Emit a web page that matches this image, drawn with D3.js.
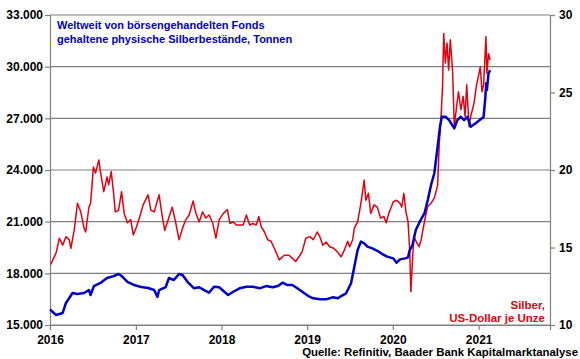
<!DOCTYPE html>
<html>
<head>
<meta charset="utf-8">
<script src="https://cdn.jsdelivr.net/npm/d3@7"></script>
<style>
  body { margin: 0; background: #fff; }
  svg { display: block; font-family: "Liberation Sans", Arial, sans-serif; }
  .axis text { font-size: 12px; font-weight: bold; fill: #000; }
</style>
</head>
<body>
<svg width="580" height="359"></svg>
<script>
// silver price, US-Dollar per ounce (right axis)
var silverDates = ["2016-01-04","2016-01-13","2016-01-27","2016-02-10","2016-02-24","2016-03-09","2016-03-23","2016-03-30","2016-04-13","2016-04-27",
  "2016-05-11","2016-05-25","2016-06-01","2016-06-15","2016-06-22","2016-07-04","2016-07-13","2016-07-27","2016-08-03","2016-08-17",
  "2016-08-31","2016-09-07","2016-09-18","2016-09-28","2016-10-05","2016-10-19","2016-11-01","2016-11-12","2016-11-26","2016-12-10",
  "2016-12-21","2017-01-03","2017-01-17","2017-02-01","2017-02-22","2017-03-06","2017-03-20","2017-04-10","2017-04-24","2017-05-04",
  "2017-05-22","2017-06-05","2017-06-19","2017-07-04","2017-07-19","2017-08-02","2017-08-16","2017-09-02","2017-09-14","2017-09-28",
  "2017-10-12","2017-10-26","2017-11-09","2017-11-24","2017-12-08","2017-12-22","2018-01-09","2018-01-26","2018-02-06","2018-02-20",
  "2018-03-05","2018-03-19","2018-04-03","2018-04-17","2018-05-01","2018-05-15","2018-05-29","2018-06-09","2018-06-19","2018-07-03",
  "2018-07-17","2018-07-31","2018-08-14","2018-09-04","2018-09-25","2018-10-16","2018-10-30","2018-11-13","2018-11-27","2018-12-11",
  "2018-12-26","2019-01-13","2019-01-27","2019-02-13","2019-02-24","2019-03-09","2019-03-23","2019-04-07","2019-04-24","2019-05-08",
  "2019-05-26","2019-06-09","2019-06-23","2019-07-01","2019-07-14","2019-07-21","2019-08-04","2019-08-18","2019-09-01","2019-09-08",
  "2019-09-19","2019-09-29","2019-10-13","2019-10-27","2019-11-10","2019-11-24","2019-12-04","2019-12-15","2020-01-03","2020-01-17",
  "2020-02-01","2020-02-08","2020-02-17","2020-02-26","2020-03-06","2020-03-13","2020-03-18","2020-03-25","2020-03-31","2020-04-11",
  "2020-04-22","2020-05-01","2020-05-08","2020-05-19","2020-05-29","2020-06-12","2020-06-26","2020-07-10","2020-07-17","2020-07-24",
  "2020-07-31","2020-08-05","2020-08-12","2020-08-19","2020-08-26","2020-09-02","2020-09-12","2020-09-19","2020-09-29","2020-10-07",
  "2020-10-17","2020-10-27","2020-11-04","2020-11-11","2020-11-21","2020-11-28","2020-12-12","2020-12-22","2021-01-08","2021-01-15",
  "2021-01-22","2021-02-01","2021-02-05","2021-02-12","2021-02-19"];
var silverPrice = [13.9,14.2,14.65,15.6,15.15,15.7,15.5,14.95,16.1,17.85,
  17.3,16.25,16.0,17.6,17.85,20.2,19.8,20.65,19.9,18.6,
  19.55,19.05,19.9,18.5,17.3,17.4,18.6,17.2,16.6,16.8,
  15.8,16.3,16.95,17.75,18.4,17.4,17.3,18.4,16.95,16.1,
  16.95,17.6,16.65,15.5,16.25,16.8,17.1,18.0,17.2,16.65,
  17.3,16.9,17.1,16.6,15.6,16.8,17.2,17.45,16.55,16.65,
  16.45,16.45,16.45,17.1,16.45,16.55,16.45,17.0,16.35,16.0,
  15.5,15.4,14.95,14.2,14.5,14.5,14.3,14.1,14.4,14.75,
  15.6,15.7,15.5,16.0,15.7,15.15,15.35,15.05,14.95,14.75,
  14.4,14.85,15.4,15.05,15.5,16.25,16.65,17.85,19.35,18.05,
  18.5,17.2,17.75,17.6,16.9,17.0,16.6,17.2,17.95,18.05,
  17.85,17.6,18.5,17.3,16.65,14.85,12.15,14.2,15.7,15.35,
  15.05,15.5,16.1,17.0,17.65,17.85,18.2,19.0,21.7,23.2,
  25.4,28.8,26.9,28.2,26.45,28.4,26.35,22.8,24.1,25.05,
  23.9,24.75,23.45,25.5,22.8,23.45,24.3,25.4,26.65,25.05,
  25.5,28.6,26.25,27.5,27.1];

// ETF silver holdings, tonnes (left axis)
var etfDates = ["2016-01-01","2016-01-27","2016-02-24","2016-03-09","2016-04-06","2016-04-27","2016-05-25","2016-06-15","2016-06-22","2016-07-06",
  "2016-08-03","2016-08-31","2016-09-28","2016-10-19","2016-11-02","2016-11-26","2016-12-25","2017-01-24","2017-02-22","2017-03-20",
  "2017-04-03","2017-04-10","2017-05-08","2017-05-22","2017-06-12","2017-07-04","2017-07-19","2017-08-09","2017-09-06","2017-09-28",
  "2017-10-19","2017-11-09","2017-11-30","2017-12-22","2018-01-29","2018-02-20","2018-03-19","2018-04-17","2018-05-15","2018-06-12",
  "2018-07-10","2018-08-07","2018-08-29","2018-09-18","2018-10-09","2018-10-30","2018-11-20","2018-12-11","2019-01-06","2019-01-27",
  "2019-02-24","2019-03-23","2019-04-21","2019-05-12","2019-05-26","2019-06-16","2019-07-07","2019-07-21","2019-08-04","2019-08-18",
  "2019-09-01","2019-09-15","2019-10-06","2019-10-27","2019-11-17","2019-12-08","2020-01-03","2020-01-17","2020-02-01","2020-02-22",
  "2020-03-06","2020-03-13","2020-03-25","2020-04-08","2020-04-25","2020-05-15","2020-05-29","2020-06-12","2020-06-26","2020-07-10",
  "2020-07-20","2020-07-28","2020-08-14","2020-08-28","2020-09-19","2020-10-02","2020-10-17","2020-10-31","2020-11-14","2020-11-28",
  "2020-12-19","2021-01-15","2021-01-22","2021-01-29","2021-02-02","2021-02-05","2021-02-12","2021-02-19"];
var etfTonnes = [15900,15580,15700,16280,16860,16800,16860,17030,16740,17260,
  17440,17730,17840,17960,17840,17500,17320,17200,17150,17030,
  16630,17030,17200,17730,17610,17960,17900,17510,17130,17190,
  17030,16880,17220,17190,16740,16930,17130,17220,17220,17130,
  17260,17190,17260,17460,17320,17320,17130,16930,16680,16550,
  16490,16490,16610,16550,16680,16840,17420,18380,19350,19840,
  19740,19550,19450,19310,19120,18970,18870,18620,18810,18870,
  18930,19350,19640,20520,21000,21490,22260,23130,23810,25350,
  26510,27090,27090,26900,26420,26900,27090,26900,27090,26510,
  26710,27000,27090,28160,29030,28640,29610,29800];

var leftTicks = [15000, 18000, 21000, 24000, 27000, 30000, 33000];
var rightTicks = [10, 15, 20, 25, 30];
var yearTicks = ["2016","2017","2018","2019","2020","2021"];

var parseDate = d3.timeParse("%Y-%m-%d");
var silver = silverDates.map(function (d, i) { return { date: parseDate(d), value: silverPrice[i] }; });
var etf = etfDates.map(function (d, i) { return { date: parseDate(d), value: etfTonnes[i] }; });

var svg = d3.select("svg");
var plotLeft = 50, plotRight = 550, plotTop = 15, plotBottom = 325;

var de = d3.formatLocale({ decimal: ",", thousands: ".", grouping: [3], currency: ["", " €"] });

var x = d3.scaleTime()
    .domain([new Date(2016, 0, 1), new Date(2021, 10, 1)])
    .range([plotLeft, plotRight]);
var yL = d3.scaleLinear().domain([15000, 33000]).range([plotBottom, plotTop]);
var yR = d3.scaleLinear().domain([10, 30]).range([plotBottom, plotTop]);

//gridlines
svg.append("g")
    .selectAll("line")
    .data(leftTicks)
    .enter().append("line")
      .attr("x1", plotLeft).attr("x2", plotRight)
      .attr("y1", function (d) { return yL(d); })
      .attr("y2", function (d) { return yL(d); })
      .attr("stroke", "#808080")
      .attr("stroke-width", 1.2);

//left axis
var gL = svg.append("g")
    .attr("class", "axis")
    .attr("transform", "translate(" + plotLeft + ",0)")
    .call(d3.axisLeft(yL).tickValues(leftTicks).tickFormat(de.format(",.0f")).tickSize(5).tickPadding(2));

//right axis
var gR = svg.append("g")
    .attr("class", "axis")
    .attr("transform", "translate(" + plotRight + ",0)")
    .call(d3.axisRight(yR).tickValues(rightTicks).tickSize(5).tickPadding(4));

//bottom axis
var gB = svg.append("g")
    .attr("class", "axis")
    .attr("transform", "translate(0," + plotBottom + ")")
    .call(d3.axisBottom(x).tickValues(yearTicks.map(function (y) { return new Date(+y, 0, 1); }))
      .tickFormat(d3.timeFormat("%Y")).tickSize(5).tickPadding(5));

[gL, gR, gB].forEach(function (g) {
    g.selectAll(".domain").attr("stroke", "#808080").attr("stroke-width", 1.2);
    g.selectAll(".tick line").attr("stroke", "#808080").attr("stroke-width", 1.2);
});

//lines
var lineL = d3.line()
    .x(function (d) { return x(d.date); })
    .y(function (d) { return yL(d.value); });
var lineR = d3.line()
    .x(function (d) { return x(d.date); })
    .y(function (d) { return yR(d.value); });

svg.append("path")
    .datum(silver)
    .attr("d", lineR)
    .attr("fill", "none")
    .attr("stroke", "#e6000f")
    .attr("stroke-width", 1.5)
    .attr("stroke-linejoin", "round");

svg.append("path")
    .datum(etf)
    .attr("d", lineL)
    .attr("fill", "none")
    .attr("stroke", "#0000cc")
    .attr("stroke-width", 2.5)
    .attr("stroke-linejoin", "round");

//labels
var title = svg.append("text")
    .attr("fill", "#0000cc")
    .style("font-size", "11px").style("font-weight", "bold");
title.append("tspan").attr("x", 57).attr("y", 29).text("Weltweit von börsengehandelten Fonds");
title.append("tspan").attr("x", 57).attr("y", 43).text("gehaltene physische Silberbestände, Tonnen");

var unit = svg.append("text")
    .attr("text-anchor", "end")
    .attr("fill", "#e6000f")
    .style("font-size", "11.5px").style("font-weight", "bold");
unit.append("tspan").attr("x", 545).attr("y", 309).text("Silber,");
unit.append("tspan").attr("x", 545).attr("y", 322).text("US-Dollar je Unze");

svg.append("text")
    .attr("x", 578).attr("y", 356)
    .attr("text-anchor", "end")
    .style("font-size", "11.4px").style("font-weight", "bold")
    .text("Quelle: Refinitiv, Baader Bank Kapitalmarktanalyse");
</script>
</body>
</html>
